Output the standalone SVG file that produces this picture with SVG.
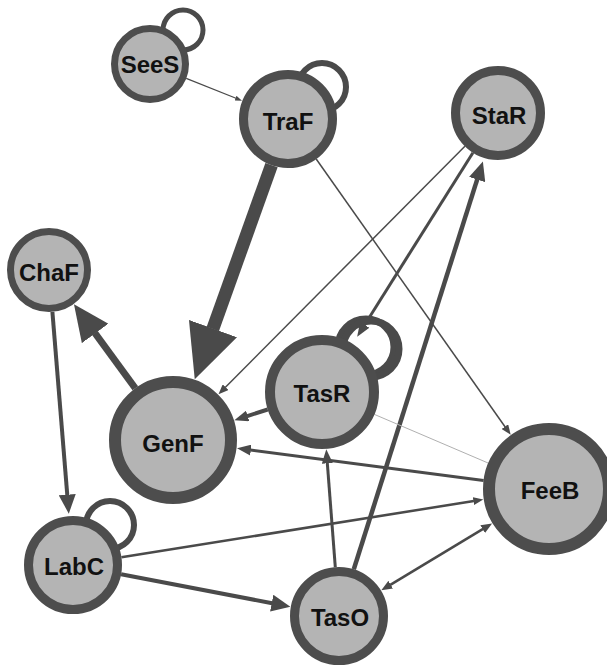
<svg xmlns="http://www.w3.org/2000/svg" width="607" height="667" viewBox="0 0 607 667">
<style>
.bg{fill:#ffffff}
.node circle{fill:#b4b4b4;stroke:#4d4d4d}
.node text{font-family:"Liberation Sans",Arial,sans-serif;font-weight:bold;font-size:24px;fill:#111;text-anchor:middle}
.e{stroke:#4a4a4a;fill:none;stroke-linecap:butt}
.loop{stroke:#4a4a4a;fill:none}
.light{stroke:#b0b0b0;fill:none}
.ah{fill:#4a4a4a}
</style>
<defs>
<marker id="mHuge" markerUnits="userSpaceOnUse" viewBox="0 0 54 51" markerWidth="54" markerHeight="51" refX="0.5" refY="25.5" orient="auto"><path class="ah" d="M0,0 L54,25.5 L0,51 z"/></marker>
<marker id="mBig" markerUnits="userSpaceOnUse" viewBox="0 0 36 33" markerWidth="36" markerHeight="33" refX="0.5" refY="16.5" orient="auto"><path class="ah" d="M0,0 L36,16.5 L0,33 z"/></marker>
<marker id="mA" markerUnits="userSpaceOnUse" viewBox="0 0 19 17" markerWidth="19" markerHeight="17" refX="0.5" refY="8.5" orient="auto"><path class="ah" d="M0,0 L19,8.5 L0,17 z"/></marker>
<marker id="mB" markerUnits="userSpaceOnUse" viewBox="0 0 14 11" markerWidth="14" markerHeight="11" refX="0.5" refY="5.5" orient="auto"><path class="ah" d="M0,0 L14,5.5 L0,11 z"/></marker>
<marker id="mC" markerUnits="userSpaceOnUse" viewBox="0 0 10 8" markerWidth="10" markerHeight="8" refX="0.5" refY="4" orient="auto"><path class="ah" d="M0,0 L10,4 L0,8 z"/></marker>
<marker id="mD" markerUnits="userSpaceOnUse" viewBox="0 0 7 5" markerWidth="7" markerHeight="5" refX="0.5" refY="2.5" orient="auto"><path class="ah" d="M0,0 L7,2.5 L0,5 z"/></marker>
<marker id="mE" markerUnits="userSpaceOnUse" viewBox="0 0 11 9" markerWidth="11" markerHeight="9" refX="0.5" refY="4.5" orient="auto-start-reverse"><path class="ah" d="M0,0 L11,4.5 L0,9 z"/></marker>
</defs>
<rect class="bg" x="0" y="0" width="607" height="667"/>
<g id="connectors">
  <!-- self loops -->
  <circle class="loop" cx="183" cy="30" r="20" stroke-width="5"/>
  <circle class="loop" cx="322" cy="87" r="24" stroke-width="6"/>
  <circle class="loop" cx="366" cy="347" r="28" stroke-width="7"/>
  <circle class="loop" cx="371" cy="349" r="28" stroke-width="7"/>
  <circle class="loop" cx="110" cy="525" r="24" stroke-width="6"/>
  <!-- edges -->
  <line class="e" x1="186.2" y1="78.4" x2="236" y2="98.3" stroke-width="1.2" marker-end="url(#mD)"/>
  <line class="e" x1="271.5" y1="165.1" x2="212.8" y2="329" stroke-width="13" marker-end="url(#mHuge)"/>
  <line class="e" x1="135.3" y1="388.3" x2="94.9" y2="333" stroke-width="7" marker-end="url(#mBig)"/>
  <line class="e" x1="52.4" y1="311.9" x2="67.3" y2="495.2" stroke-width="4" marker-end="url(#mA)"/>
  <line class="e" x1="464.9" y1="146.3" x2="225.2" y2="387.5" stroke-width="1.5" marker-end="url(#mC)"/>
  <line class="e" x1="472.9" y1="152.7" x2="364.4" y2="325.2" stroke-width="3" marker-end="url(#mB)"/>
  <line class="e" x1="353.8" y1="569.3" x2="477.3" y2="179.1" stroke-width="4.5" marker-end="url(#mA)"/>
  <line class="e" x1="316.2" y1="159" x2="505.2" y2="427" stroke-width="1.5" marker-end="url(#mC)"/>
  <line class="e" x1="267.7" y1="409.5" x2="247.2" y2="416.1" stroke-width="4" marker-end="url(#mB)"/>
  <line class="light" x1="374.4" y1="414.4" x2="488.3" y2="463.1" stroke-width="1"/>
  <line class="e" x1="483.6" y1="480.5" x2="250.4" y2="450.1" stroke-width="3" marker-end="url(#mB)"/>
  <line class="e" x1="121.4" y1="557.3" x2="473.9" y2="501" stroke-width="2.5" marker-end="url(#mC)"/>
  <line class="e" x1="121.1" y1="574.2" x2="272.2" y2="603.2" stroke-width="4" marker-end="url(#mA)"/>
  <line class="e" x1="335.3" y1="567.1" x2="327.3" y2="462.8" stroke-width="3" marker-end="url(#mB)"/>
  <line class="e" x1="483.1" y1="528.9" x2="390.3" y2="584.9" stroke-width="2.5" marker-start="url(#mE)" marker-end="url(#mE)"/>
</g>
<g id="SeeS" class="node"><circle cx="150" cy="64" r="35.5" stroke-width="7"/><text x="150" y="72.5">SeeS</text></g>
<g id="TraF" class="node"><circle cx="288" cy="119" r="44.5" stroke-width="9"/><text x="288" y="129.5">TraF</text></g>
<g id="StaR" class="node"><circle cx="498" cy="113" r="42.5" stroke-width="9"/><text x="499" y="123.5">StaR</text></g>
<g id="ChaF" class="node"><circle cx="49" cy="270" r="38.5" stroke-width="7"/><text x="49" y="281">ChaF</text></g>
<g id="GenF" class="node"><circle cx="173" cy="440" r="58" stroke-width="12"/><text x="173" y="452">GenF</text></g>
<g id="TasR" class="node"><circle cx="322" cy="392" r="52" stroke-width="10"/><text x="322" y="401.5">TasR</text></g>
<g id="FeeB" class="node"><circle cx="549" cy="489" r="60" stroke-width="12"/><text x="550" y="498.5">FeeB</text></g>
<g id="LabC" class="node"><circle cx="73" cy="565" r="44.5" stroke-width="9"/><text x="74" y="575">LabC</text></g>
<g id="TasO" class="node"><circle cx="339" cy="616" r="44.5" stroke-width="9"/><text x="340" y="626">TasO</text></g>
</svg>
